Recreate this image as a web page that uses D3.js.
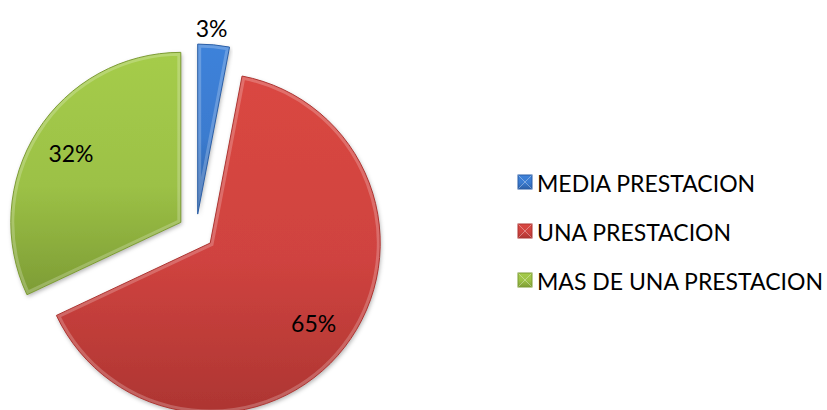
<!DOCTYPE html>
<html>
<head>
<meta charset="utf-8">
<script src="https://cdn.jsdelivr.net/npm/d3@7"></script>
<style>
  body { margin: 0; background: #fff; }
  svg { display: block; }
</style>
</head>
<body>
<svg id="chart"></svg>
<script>
// datos del grafico
const categories = ["MEDIA PRESTACION", "UNA PRESTACION", "MAS DE UNA PRESTACION"];
const values = [3, 65, 32];
const labels = ["3%", "65%", "32%"];
const colors = ["#3b7bcf", "#cf433f", "#9cc146"];
const darkColors = ["#2c5fa6", "#ad3532", "#7d9c35"];

const width = 827, height = 410;
const cx = 196, cy = 232, radius = 170, explode = 18;

const svg = d3.select("#chart")
    .attr("width", width)
    .attr("height", height);

const defs = svg.append("defs");

// degradado vertical para cada porcion
colors.forEach((c, i) => {
    const g = defs.append("linearGradient")
        .attr("id", "grad" + i)
        .attr("x1", 0).attr("y1", 0)
        .attr("x2", 0).attr("y2", 1);
    g.append("stop").attr("offset", "0%").attr("stop-color", d3.color(c).brighter(0.15));
    g.append("stop").attr("offset", "55%").attr("stop-color", c);
    g.append("stop").attr("offset", "100%").attr("stop-color", darkColors[i]);
});

const shadow = defs.append("filter")
    .attr("id", "shadow")
    .attr("x", "-10%").attr("y", "-10%")
    .attr("width", "120%").attr("height", "120%");
shadow.append("feDropShadow")
    .attr("dx", 1).attr("dy", 2)
    .attr("stdDeviation", 2)
    .attr("flood-color", "#000")
    .attr("flood-opacity", 0.3);

const pie = d3.pie().sort(null).value(d => d);
const arcs = pie(values);

const arc = d3.arc().innerRadius(0).outerRadius(radius);

const chart = svg.append("g")
    .attr("transform", `translate(${cx},${cy})`);

const slices = chart.selectAll(".slice")
    .data(arcs)
    .enter()
    .append("g")
    .attr("class", "slice")
    .attr("transform", d => {
        const a = (d.startAngle + d.endAngle) / 2;
        return `translate(${Math.sin(a) * explode},${-Math.cos(a) * explode})`;
    });

slices.append("clipPath")
    .attr("id", (d, i) => "clip" + i)
    .append("path")
    .attr("d", arc);

slices.append("path")
    .attr("d", arc)
    .attr("fill", (d, i) => `url(#grad${i})`)
    .attr("filter", "url(#shadow)");

// efecto de bisel en los bordes
slices.append("path")
    .attr("d", arc)
    .attr("fill", "none")
    .attr("stroke", "#fff")
    .attr("stroke-opacity", 0.22)
    .attr("stroke-width", 7)
    .attr("clip-path", (d, i) => `url(#clip${i})`);

slices.append("path")
    .attr("d", arc)
    .attr("fill", "none")
    .attr("stroke", (d, i) => darkColors[i])
    .attr("stroke-width", 1);

// etiquetas de porcentaje
const labelRadius = [radius + 17, radius * 0.77, radius * 0.765];

slices.append("text")
    .attr("x", (d, i) => Math.sin((d.startAngle + d.endAngle) / 2 - (i === 0 ? 0.02 : 0)) * labelRadius[i])
    .attr("y", (d, i) => -Math.cos((d.startAngle + d.endAngle) / 2) * labelRadius[i])
    .attr("text-anchor", "middle")
    .attr("dominant-baseline", "central")
    .style("font-family", "Lato, 'Open Sans', sans-serif")
    .style("font-size", "23px")
    .attr("fill", "#000")
    .text((d, i) => labels[i]);

// leyenda
const legend = svg.append("g")
    .attr("transform", "translate(518,0)");

const rows = legend.selectAll(".row")
    .data(categories)
    .enter()
    .append("g")
    .attr("class", "row")
    .attr("transform", (d, i) => `translate(0,${192 + i * 49})`);

rows.append("rect")
    .attr("x", 0)
    .attr("y", -17)
    .attr("width", 14)
    .attr("height", 14)
    .attr("fill", (d, i) => `url(#grad${i})`)
    .attr("stroke", (d, i) => darkColors[i])
    .attr("stroke-width", 1);

rows.append("path")
    .attr("d", "M0.5,-16.5 L13.5,-3.5 M13.5,-16.5 L0.5,-3.5")
    .attr("stroke", "#fff")
    .attr("stroke-opacity", 0.35)
    .attr("stroke-width", 1);

rows.append("text")
    .attr("x", 19)
    .attr("y", 0)
    .style("font-family", "Lato, 'Open Sans', sans-serif")
    .style("font-size", "23px")
    .attr("fill", "#000")
    .text(d => d);
</script>
</body>
</html>
